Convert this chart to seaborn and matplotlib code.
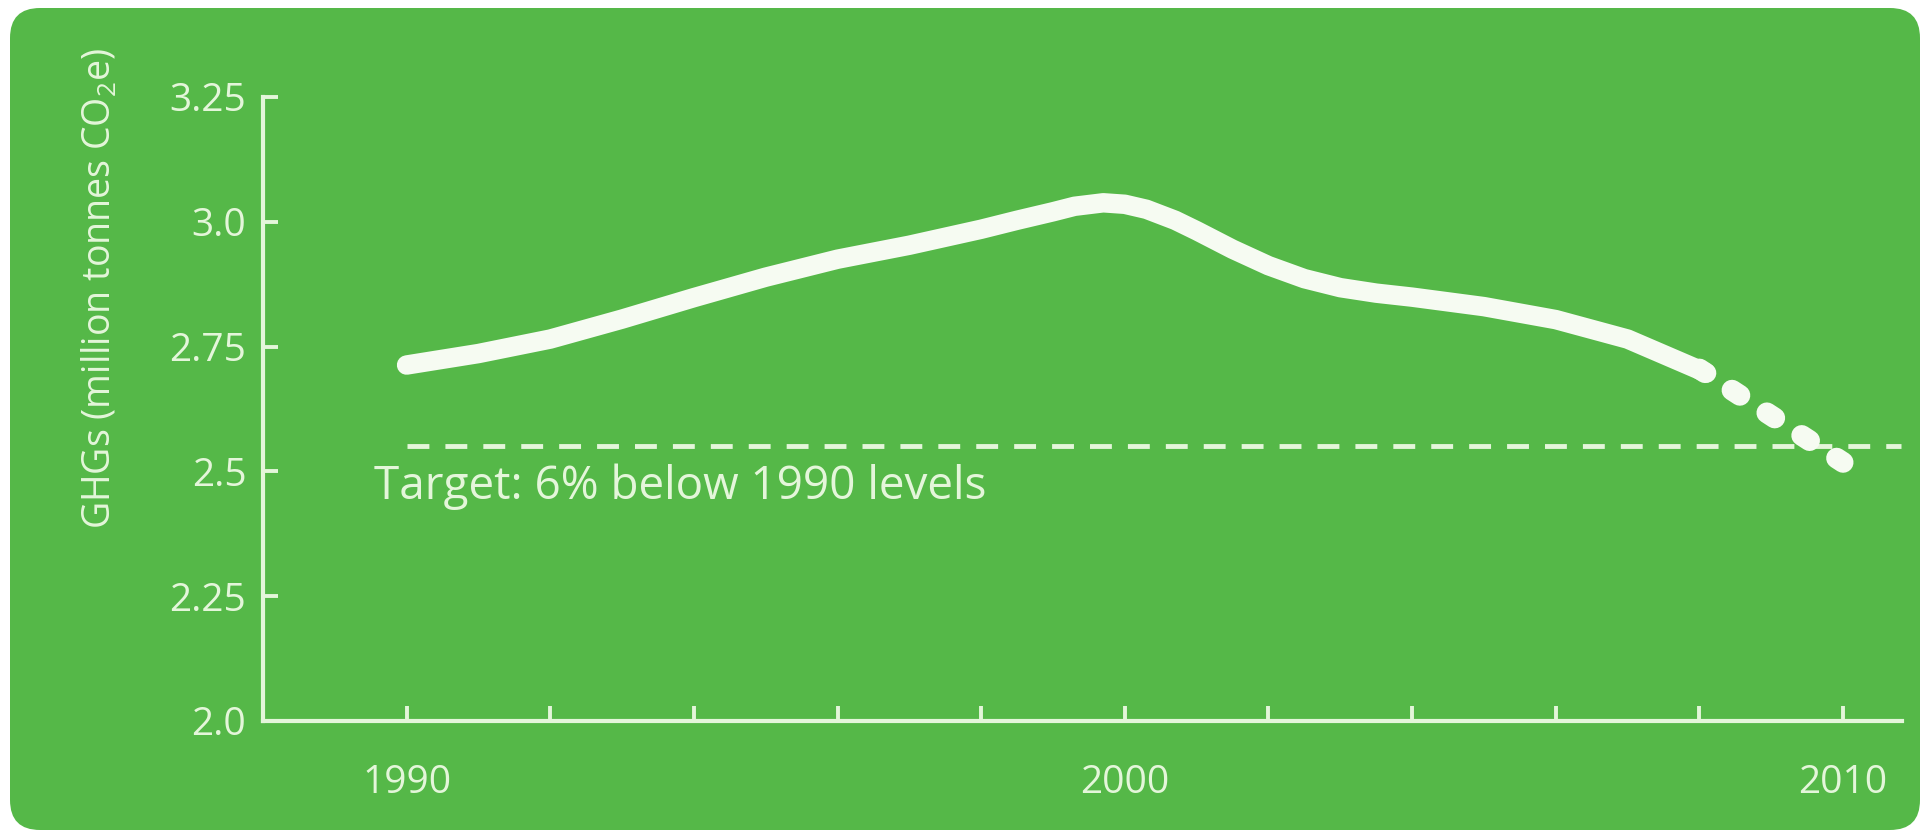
import matplotlib
matplotlib.use("Agg")
import matplotlib.pyplot as plt
from matplotlib.patches import FancyBboxPatch
import pandas as pd
import seaborn as sns

# GHG emissions (million tonnes CO2e)
years = [1990, 1991, 1992, 1993, 1994, 1995, 1996, 1997, 1998, 1998.5, 1999, 1999.3,
         1999.7, 2000, 2000.3, 2000.7, 2001, 2001.5, 2002, 2002.5, 2003, 2003.5,
         2004, 2005, 2006, 2007, 2008.1]
ghg = [2.713, 2.736, 2.765, 2.805, 2.848, 2.889, 2.925, 2.953, 2.985, 3.003, 3.020, 3.031,
       3.038, 3.035, 3.025, 3.003, 2.982, 2.945, 2.912, 2.886, 2.868, 2.857,
       2.849, 2.830, 2.804, 2.765, 2.697]

# projection to 2010
proj_years = [2008, 2010]
proj_ghg = [2.705, 2.518]

# target line
target_years = [1990, 2010.8]
target_ghg = [2.55, 2.55]
target_label = "Target: 6% below 1990 levels"

y_ticks = [2.0, 2.25, 2.5, 2.75, 3.0, 3.25]
y_tick_labels = ["2.0", "2.25", "2.5", "2.75", "3.0", "3.25"]
x_ticks = [1990, 1992, 1994, 1996, 1998, 2000, 2002, 2004, 2006, 2008, 2010]
x_tick_labels = ["1990", "", "", "", "", "2000", "", "", "", "", "2010"]

green = "#55b848"
pale = "#e4f6da"
line_white = "#f6fbf2"

sns.set_style("white")
plt.rcParams["font.family"] = ["Open Sans", "DejaVu Sans"]
plt.rcParams["mathtext.fontset"] = "custom"
plt.rcParams["mathtext.rm"] = "Open Sans"

fig = plt.figure(figsize=(19.29, 8.33), dpi=100)
fig.patch.set_facecolor("white")

# rounded green panel
panel = FancyBboxPatch((0.10, 0.03), 19.10, 8.22,
                       boxstyle="round,pad=0,rounding_size=0.3",
                       transform=fig.dpi_scale_trans,
                       facecolor=green, edgecolor="none", zorder=0)
fig.add_artist(panel)

ax = fig.add_axes([0.1363, 0.1345, 0.8497, 0.7491])
ax.set_facecolor("none")

df = pd.DataFrame({"year": years, "ghg": ghg})
proj = pd.DataFrame({"year": proj_years, "ghg": proj_ghg})
tgt = pd.DataFrame({"year": target_years, "ghg": target_ghg})

sns.lineplot(data=tgt, x="year", y="ghg", ax=ax, color=pale, linewidth=3.5,
             linestyle=(0, (4.5, 3.3)), zorder=2)
sns.lineplot(data=proj, x="year", y="ghg", ax=ax, color=line_white, linewidth=15,
             linestyle=(0.13, (0.45, 1.545)), dash_capstyle="round", zorder=3)
sns.lineplot(data=df, x="year", y="ghg", ax=ax, color=line_white, linewidth=14,
             solid_capstyle="round", solid_joinstyle="round", zorder=4)

ax.text(1989.55, 2.515, target_label, color=pale, fontsize=33,
        ha="left", va="top")

ax.set_xlim(1988, 2010.82)
ax.set_ylim(2.0, 3.25)
ax.set_xticks(x_ticks)
ax.set_xticklabels(x_tick_labels)
ax.set_yticks(y_ticks)
ax.set_yticklabels(y_tick_labels)
ax.tick_params(axis="both", direction="in", length=11, width=2.8, colors=pale,
               labelsize=28, labelcolor=pale, bottom=True, left=True)
ax.tick_params(axis="x", pad=31)
ax.tick_params(axis="y", pad=12)

for side in ["top", "right"]:
    ax.spines[side].set_visible(False)
for side in ["left", "bottom"]:
    ax.spines[side].set_color(pale)
    ax.spines[side].set_linewidth(3)

ax.set_xlabel("")
ax.set_ylabel("")
fig.text(100 / 1929, 1 - 288 / 833, r"GHGs (million tonnes CO$_\mathregular{2}$e)",
         rotation=90, ha="center", va="center", color=pale, fontsize=27)

fig.savefig("out.png", dpi=100, facecolor=fig.get_facecolor())
